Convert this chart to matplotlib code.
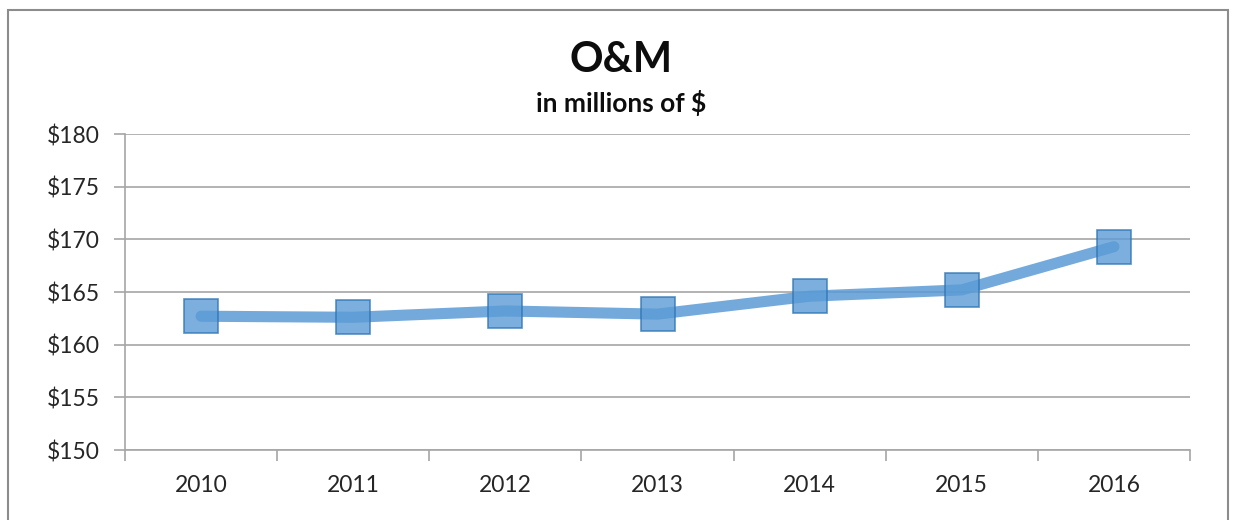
import matplotlib.pyplot as plt
import numpy as np
from matplotlib.patches import Rectangle

years = ['2010', '2011', '2012', '2013', '2014', '2015', '2016']
om_values = [162.7, 162.6, 163.2, 162.9, 164.6, 165.2, 169.3]
y_ticks = [150, 155, 160, 165, 170, 175, 180]

plt.rcParams['font.family'] = ['Lato', 'DejaVu Sans']

fig = plt.figure(figsize=(12.33, 5.2), dpi=100)

# outer chart border
border = Rectangle((8 / 1233, -0.1), 1220 / 1233, 1.1 - 10 / 520,
                   transform=fig.transFigure, facecolor='none',
                   edgecolor='#8c8c8c', linewidth=1.5, clip_on=False)
fig.patches.append(border)

ax = fig.add_axes([125 / 1233, 1 - 450 / 520, 1065 / 1233, 316 / 520])

x = np.arange(len(years))
ax.plot(x, om_values, color='#5B9BD5', alpha=0.85, linewidth=8,
        solid_capstyle='round', solid_joinstyle='round', zorder=3)
ax.plot(x, om_values, linestyle='none', marker='s', markersize=24,
        markerfacecolor='#5B9BD5', markeredgecolor='#2E75B6',
        markeredgewidth=1.2, alpha=0.8, zorder=4)

ax.set_xlim(-0.5, len(years) - 0.5)
ax.set_ylim(150, 180)
ax.set_yticks(y_ticks)
ax.set_yticklabels(['${}'.format(v) for v in y_ticks])
ax.set_xticks(x)
ax.set_xticklabels(years)
ax.set_xticks(np.arange(-0.5, len(years)), minor=True)

ax.grid(axis='y', color='#a6a6a6', linewidth=1.2)
ax.set_axisbelow(True)
for s in ['top', 'right']:
    ax.spines[s].set_visible(False)
ax.spines['left'].set_color('#a6a6a6')
ax.spines['bottom'].set_color('#a6a6a6')
ax.spines['left'].set_linewidth(1.2)
ax.spines['bottom'].set_linewidth(1.2)

ax.tick_params(axis='y', length=8, width=1.2, color='#a6a6a6',
               labelsize=16.5, labelcolor='#262626', pad=10)
ax.tick_params(axis='x', which='major', length=0, labelsize=16.5,
               labelcolor='#262626', pad=18)
ax.tick_params(axis='x', which='minor', length=8, width=1.2,
               color='#a6a6a6')

fig.text(621 / 1233, 1 - 60 / 520, 'O&M', ha='center', va='center',
         fontsize=30, fontweight='bold', color='#0d0d0d')
fig.text(621 / 1233, 1 - 103 / 520, 'in millions of $', ha='center',
         va='center', fontsize=19, fontweight='bold', color='#0d0d0d')

fig.savefig('out.png', dpi=100)
